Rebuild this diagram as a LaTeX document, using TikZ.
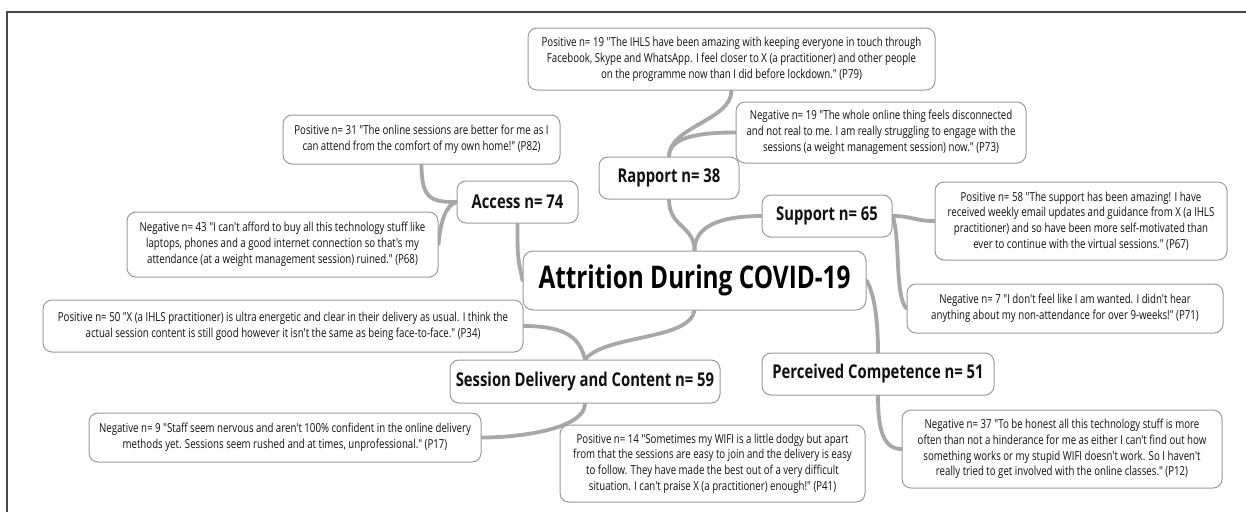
\documentclass[tikz,border=0pt]{standalone}
\usepackage{fontspec}
\newfontfamily\mfont{Open Sans}[FakeStretch=0.78]
\usetikzlibrary{calc}
\pgfdeclarelayer{bg}
\pgfsetlayers{bg,main}
\definecolor{boxline}{HTML}{9A9A9A}
\definecolor{linkgray}{HTML}{A8A8A8}
\definecolor{framegray}{HTML}{4A4A4A}
\definecolor{txt}{HTML}{111111}
\begin{document}
\begin{tikzpicture}[x=1pt,y=-1pt,
  quote/.style={draw=boxline, line width=1pt, rounded corners=9pt, fill=white,
    align=center, inner sep=0pt, text=txt,
    font=\mfont\fontsize{12.4}{15.8}\selectfont},
  topic/.style={draw=boxline, line width=1pt, rounded corners=9pt, fill=white,
    align=center, inner sep=0pt, text=txt,
    font=\mfont\bfseries\fontsize{19}{22}\selectfont},
  title/.style={draw=boxline, line width=1pt, rounded corners=10pt, fill=white,
    align=center, inner sep=0pt, text=black,
    font=\mfont\bfseries\fontsize{31.2}{36}\selectfont},
  link/.style={draw=linkgray, line width=3.8pt, line cap=round},
  framestyle/.style={draw=framegray, line width=1.8pt}]
\useasboundingbox (0,0) rectangle (1246,512);

\coordinate (fa) at (7,512);
\coordinate (fb) at (7,12);
\coordinate (fc) at (1246,12);
\draw[framestyle] (fa) -- (fb) -- (fc);

\node[title, minimum width=343pt, minimum height=59pt] (cen) at (694.5,280.5) {Attrition During COVID-19};

\node[topic, minimum width=140pt, minimum height=42pt] (rap) at (669,178) {Rapport n= 38};
\node[topic, minimum width=121pt, minimum height=42pt] (acc) at (517.5,202) {Access n= 74};
\node[topic, minimum width=130pt, minimum height=42pt] (sup) at (827,216) {Support n= 65};
\node[topic, minimum width=270pt, minimum height=43pt] (ses) at (585,381.5) {Session Delivery and Content n= 59};
\node[topic, minimum width=232pt, minimum height=42pt] (per) at (878,374) {Perceived Competence n= 51};

\node[quote, minimum width=407pt, minimum height=62pt] (p79) at (731.5,59) {Positive n= 19 "The IHLS have been amazing with keeping everyone in touch through\\Facebook, Skype and WhatsApp. I feel closer to X (a practitioner) and other people\\on the programme now than I did before lockdown." (P79)};
\node[quote, minimum width=290pt, minimum height=61pt] (p73) at (881,132.5) {Negative n= 19 "The whole online thing feels disconnected\\and not real to me. I am really struggling to engage with the\\sessions (a weight management session) now." (P73)};
\node[quote, minimum width=277pt, minimum height=49pt] (p82) at (421.5,139.5) {Positive n= 31 "The online sessions are better for me as I\\can attend from the comfort of my own home!" (P82)};
\node[quote, minimum width=311pt, minimum height=65pt] (p68) at (282.5,244.5) {Negative n= 43 "I can't afford to buy all this technology stuff like\\laptops, phones and a good internet connection so that's my\\attendance (at a weight management session) ruined." (P68)};
\node[quote, minimum width=292pt, minimum height=78pt] (p67) at (1081,221) {Positive n= 58 "The support has been amazing! I have\\received weekly email updates and guidance from X (a IHLS\\practitioner) and so have been more self-motivated than\\ever to continue with the virtual sessions." (P67)};
\node[quote, minimum width=316pt, minimum height=49pt] (p71) at (1065,308.5) {Negative n= 7 "I don't feel like I am wanted. I didn't hear\\anything about my non-attendance for over 9-weeks!" (P71)};
\node[quote, minimum width=480pt, minimum height=52pt] (p34) at (283,326) {Positive n= 50 "X (a IHLS practitioner) is ultra energetic and clear in their delivery as usual. I think the\\actual session content is still good however it isn't the same as being face-to-face." (P34)};
\node[quote, minimum width=392pt, minimum height=49pt] (p17) at (285,437.5) {Negative n= 9 "Staff seem nervous and aren't 100\% confident in the online delivery\\methods yet. Sessions seem rushed and at times, unprofessional." (P17)};
\node[quote, minimum width=305pt, minimum height=77pt] (p41) at (712.5,463.5) {Positive n= 14 "Sometimes my WIFI is a little dodgy but apart\\from that the sessions are easy to join and the delivery is easy\\to follow. They have made the best out of a very difficult\\situation. I can't praise X (a practitioner) enough!" (P41)};
\node[quote, minimum width=320pt, minimum height=78pt] (p12) at (1062,449) {Negative n= 37 "To be honest all this technology stuff is more\\often than not a hinderance for me as either I can't find out how\\something works or my stupid WIFI doesn't work. So I haven't\\really tried to get involved with the online classes." (P12)};

\begin{pgfonlayer}{bg}
\draw[link] (cen.north) .. controls +(0,-25) and +(0,28) .. (rap.south);
\draw[link] (cen.north) .. controls +(0,-25) and +(-40,0) .. (sup.west);
\draw[link] (rap.north) .. controls +(0,-30) and +(0,30) .. (p79.south);
\draw[link] (rap.north) .. controls +(0,-20) and +(-35,0) .. (p73.west);
\draw[link] (acc.west) .. controls +(-25,0) and +(0,35) .. (p82.south);
\draw[link] (acc.west) .. controls +(-10,3) and +(2,-25) .. (p68.east);
\draw[link] (acc.south) .. controls +(0,35) and +(-5,-25) .. (cen.west);
\draw[link] (sup.east) .. controls +(20,0) and +(-20,0) .. (p67.west);
\draw[link] (sup.east) .. controls +(8,20) and +(-12,-12) .. (p71.west);
\draw[link] (cen.east) .. controls +(6,10) and +(0,-40) .. (per.north);
\draw[link] (per.south) .. controls +(0,30) and +(-20,0) .. (p12.west);
\draw[link] (cen.south) .. controls +(-5,30) and +(20,-25) .. (ses.north);
\draw[link] (p34.east) .. controls +(45,0) and +(-5,-20) .. (ses.north);
\draw[link] (ses.south) .. controls +(0,25) and +(40,0) .. (p17.east);
\end{pgfonlayer}
\end{tikzpicture}
\end{document}
